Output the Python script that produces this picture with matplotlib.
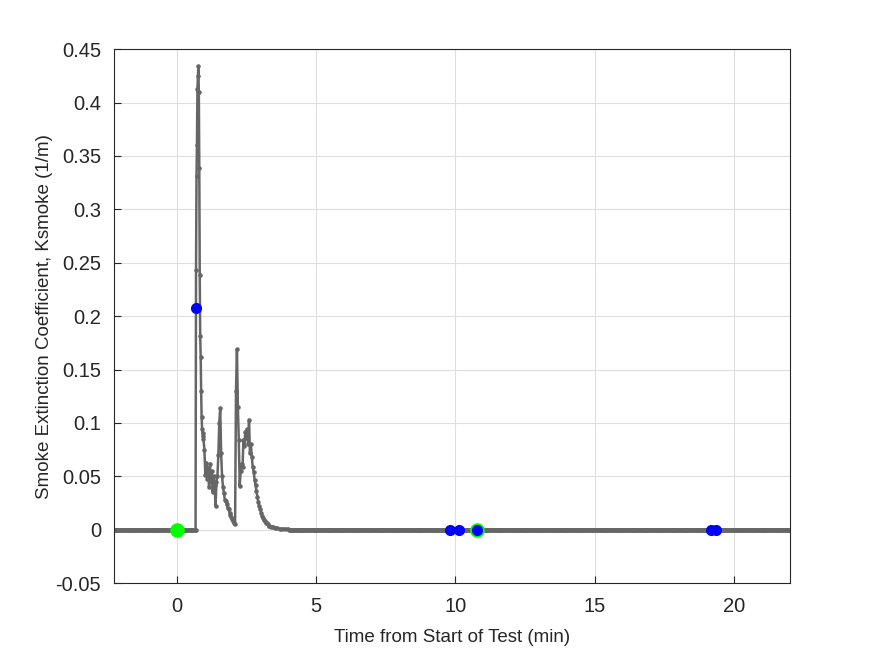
import numpy as np
import matplotlib
matplotlib.use("Agg")
import matplotlib.pyplot as plt

plt.rcParams["font.family"] = ["Liberation Sans", "DejaVu Sans"]

# smoke event samples (min, 1/m)
event_t = [0.683, 0.700, 0.717, 0.733, 0.750, 0.767, 0.783, 0.800, 0.817, 0.833,
           0.850, 0.867, 0.883, 0.900, 0.917, 0.933, 0.950,
           0.967, 1.000, 1.033, 1.067, 1.100, 1.133, 1.167, 1.200, 1.233, 1.267,
           1.300, 1.333, 1.367, 1.400, 1.433, 1.467, 1.500, 1.533, 1.567, 1.600,
           1.633, 1.667, 1.700, 1.733, 1.767, 1.800, 1.833, 1.867, 1.900, 1.933,
           1.967, 2.000, 2.033, 2.067, 2.100, 2.133, 2.167, 2.200, 2.233, 2.267,
           2.300, 2.333, 2.367, 2.400, 2.433, 2.467, 2.500, 2.533, 2.567, 2.600,
           2.633, 2.667, 2.700, 2.733, 2.767, 2.800, 2.833, 2.867, 2.900, 2.933,
           2.967, 3.000, 3.033, 3.067, 3.100, 3.133, 3.167, 3.200, 3.233, 3.267,
           3.300, 3.333, 3.400, 3.467, 3.533, 3.600, 3.700, 3.800, 3.900, 4.000]
event_k = [0.000, 0.243, 0.331, 0.360, 0.413, 0.425, 0.434, 0.410, 0.339, 0.239,
           0.181, 0.162, 0.130, 0.106, 0.094, 0.091, 0.088,
           0.085, 0.075, 0.051, 0.063, 0.048, 0.058, 0.040, 0.062, 0.045, 0.055,
           0.035, 0.050, 0.042, 0.022, 0.045, 0.050, 0.070, 0.100, 0.114, 0.072,
           0.050, 0.040, 0.034, 0.028, 0.027, 0.024, 0.020, 0.019, 0.016, 0.014,
           0.012, 0.010, 0.008, 0.006, 0.005, 0.130, 0.169, 0.115, 0.084, 0.041,
           0.055, 0.062, 0.059, 0.084, 0.078, 0.092, 0.086, 0.094, 0.080, 0.103,
           0.072, 0.080, 0.068, 0.059, 0.054, 0.047, 0.042, 0.036, 0.031, 0.026,
           0.022, 0.019, 0.016, 0.013, 0.011, 0.009, 0.008, 0.006, 0.006, 0.005,
           0.004, 0.004, 0.003, 0.003, 0.002, 0.002, 0.001, 0.001, 0.001, 0.001]

# flat baseline before / after the event (reads as 0)
pre_t = np.arange(-2.25, 0.67, 1 / 30)
post_t = np.arange(4.05, 22.0, 1 / 30)
baseline_k = 0.0

green_t = [0.0, 10.78]
green_k = [0.0, 0.0]
blue_t = [0.71, 9.82, 10.13, 10.78, 19.15, 19.35]
blue_k = [0.208, 0.0, 0.0, 0.0, 0.0, 0.0]

t = np.concatenate([pre_t, event_t, post_t])
k = np.concatenate([np.full(len(pre_t), baseline_k), event_k,
                    np.full(len(post_t), baseline_k)])

fig = plt.figure(figsize=(8.75, 6.56), dpi=100)
ax = fig.add_axes([0.130, 0.111, 0.773, 0.814])
ax.plot(t, k, "-", color="#666666", lw=1.8, marker=".", ms=4.5, zorder=2)
ax.plot(green_t, green_k, "o", color="#00ff00", ms=9.5, zorder=3, mec="#00ff00")
ax.plot(blue_t, blue_k, "o", color="#0000ff", ms=7, zorder=4, mec="#0000ff")

ax.set_xlim(-2.25, 22)
ax.set_ylim(-0.05, 0.45)
ax.set_xticks([0, 5, 10, 15, 20])
ax.set_yticks(np.arange(-0.05, 0.451, 0.05))
ax.set_yticklabels(["-0.05", "0", "0.05", "0.1", "0.15", "0.2", "0.25", "0.3",
                    "0.35", "0.4", "0.45"])
ax.grid(True, color="#dfdfdf", lw=0.8)
ax.set_axisbelow(True)
ax.tick_params(direction="in", length=5, colors="#262626", labelsize=14.5)
ax.tick_params(axis="x", pad=10)
ax.tick_params(axis="y", pad=9)
for s in ax.spines.values():
    s.set_color("#262626")
    s.set_linewidth(0.8)
ax.set_xlabel("Time from Start of Test (min)", fontsize=13.5, color="#262626", labelpad=9)
ax.set_ylabel("Smoke Extinction Coefficient, Ksmoke (1/m)", fontsize=13.5,
              color="#262626", labelpad=2)

fig.savefig("out.png", dpi=100)
